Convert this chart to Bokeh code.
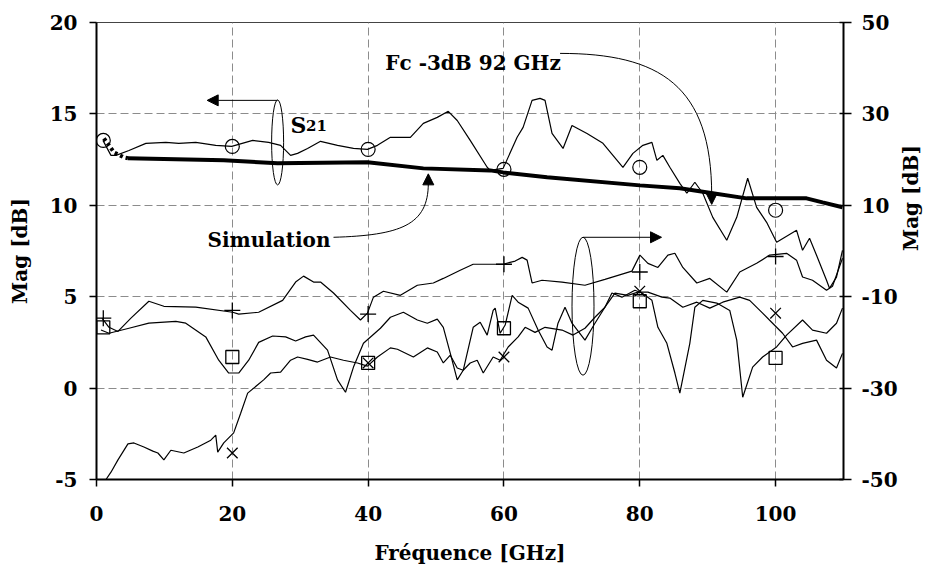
import math
from bokeh.plotting import figure
from bokeh.models import Range1d, LinearAxis, FixedTicker, Label, Arrow, NormalHead, PrintfTickFormatter
from bokeh.embed import file_html
from bokeh.resources import INLINE

# ---------------- data ----------------
X_TICKS = [0, 20, 40, 60, 80, 100]
Y_TICKS = [-5, 0, 5, 10, 15, 20]
R_TICKS = [-50, -30, -10, 10, 30, 50]

# S21 measured (left axis, dB)
S21_f = [0.95, 2.13, 2.87, 4.78, 7.27, 10.21, 12.12, 14.62, 17.56, 19.91, 21.97, 23.0, 25.35, 27.11,
         28.58, 29.61, 31.08, 32.99, 35.49, 37.84, 39.9, 41.37, 43.28, 46.22, 48.13, 50.18, 51.8, 53.12,
         55.03, 57.53, 57.97, 59.88, 61.94, 62.82, 64.14, 65.32, 66.05, 67.08, 68.7, 70.02, 72.23, 74.58,
         77.52, 78.99, 80.46, 81.79, 82.52, 83.4, 84.43, 85.9, 86.93, 88.11, 89.28, 90.75, 92.81, 94.28,
         95.89, 97.21, 98.68, 100.15, 101.62, 103.09, 103.97, 105.0, 106.03, 107.5, 107.94, 108.97, 109.85]
S21_db = [13.55, 12.73, 12.73, 13.0, 13.39, 13.44, 13.39, 13.44, 13.28, 13.22, 13.44, 13.55, 13.44, 13.28,
          12.73, 12.84, 13.11, 13.5, 13.28, 13.11, 13.06, 13.28, 13.72, 13.72, 14.48, 14.81, 15.14, 14.64,
          13.55, 12.08, 11.91, 12.02, 13.72, 14.26, 15.74, 15.85, 15.74, 13.93, 13.11, 14.37, 13.93, 13.39,
          12.08, 12.84, 13.28, 13.44, 12.46, 12.73, 12.08, 11.2, 10.66, 11.26, 10.66, 9.34, 8.09, 9.34,
          11.48, 9.89, 9.07, 7.98, 8.31, 8.63, 7.54, 8.2, 7.27, 5.9, 5.46, 6.07, 7.54]

# Simulation (left axis, dB)
SIM_f = [1.1, 1.84, 2.57, 3.16, 4.04, 4.63, 18.74, 26.67, 39.9, 48.13, 57.97, 59.88, 66.35, 80.02,
         85.9, 90.75, 95.74, 100.59, 104.56, 106.91, 109.85]
SIM_db = [13.66, 13.28, 12.9, 12.79, 12.62, 12.57, 12.46, 12.3, 12.35, 12.02, 11.91, 11.8, 11.53, 11.09,
          10.93, 10.66, 10.38, 10.38, 10.38, 10.16, 9.89]

# Curve "+" (right axis, dB)
P_f = [0.81, 1.84, 3.16, 5.07, 7.71, 9.92, 14.62, 20.06, 20.94, 23.88, 27.41, 29.32, 30.49, 31.96, 32.99,
       34.9, 37.4, 38.87, 39.9, 40.78, 42.25, 44.75, 47.25, 49.6, 51.07, 53.56, 55.47, 57.53, 59.88, 61.65,
       62.68, 63.41, 64.14, 65.61, 68.55, 71.93, 74.87, 78.84, 80.02, 81.2, 82.67, 84.14, 85.17, 86.34,
       88.4, 90.31, 92.81, 94.72, 97.21, 99.12, 101.62, 103.09, 103.97, 105.44, 107.5, 108.38, 109.85]
P_r = [-14.7, -16.7, -17.6, -14.7, -11.0, -12.1, -12.3, -13.4, -13.8, -13.4, -10.8, -6.8, -5.5, -6.8, -6.8,
       -9.2, -13.0, -15.1, -13.6, -10.1, -8.8, -9.7, -7.5, -7.0, -6.0, -4.2, -2.9, -2.9, -2.9, -2.2,
       -1.4, -2.0, -7.0, -6.4, -6.8, -7.5, -6.2, -4.4, -0.9, -2.7, -3.6, -0.9, -0.5, -3.6,
       -7.0, -6.0, -9.0, -4.6, -2.7, -0.9, -0.5, -2.0, -5.7, -6.4, -8.6, -7.7, -1.6]

# Curve "square" (right axis, dB)
A_f = [0.66, 1.84, 4.78, 7.71, 11.68, 13.15, 16.09, 18.0, 19.47, 20.94, 22.41, 23.88, 25.94, 27.85, 29.32,
       30.79, 31.96, 34.02, 35.49, 36.67, 37.84, 39.31, 41.81, 43.28, 45.19, 47.25, 48.72, 50.18, 51.07,
       52.1, 53.12, 54.0, 55.47, 56.5, 57.53, 58.41, 58.71, 59.44, 60.18, 61.21, 62.09, 63.56, 65.03, 66.35,
       67.08, 67.96, 68.99, 70.02, 71.93, 73.4, 74.87, 76.34, 78.25, 79.72, 81.2, 83.26, 84.43, 86.34,
       88.4, 90.31, 92.22, 94.72, 96.18, 98.09, 99.56, 101.03, 102.5, 103.97, 106.03, 107.5, 108.97, 109.85]
A_r = [-17.3, -18.0, -16.9, -15.8, -15.4, -15.8, -18.8, -23.9, -26.7, -26.7, -23.9, -20.0, -18.6, -18.8, -19.7,
       -18.8, -18.4, -21.7, -28.2, -30.9, -25.4, -20.2, -16.9, -14.5, -13.4, -15.1, -15.8, -14.9, -16.7,
       -22.4, -28.2, -26.1, -16.7, -15.6, -18.4, -13.0, -12.5, -18.0, -16.2, -9.7, -11.2, -12.5, -17.3, -21.0,
       -21.7, -15.8, -12.3, -15.8, -19.5, -15.8, -12.3, -9.2, -9.7, -9.0, -9.0, -10.1, -10.3, -12.3,
       -11.2, -12.5, -11.2, -10.1, -10.8, -13.6, -15.8, -18.0, -21.0, -20.2, -19.5, -23.9, -25.6, -22.4]

# Curve "x" (right axis, dB)
C_f = [1.4, 2.13, 3.16, 4.63, 5.51, 6.98, 8.3, 9.04, 9.92, 10.95, 12.86, 14.92, 16.83, 17.56, 17.85, 18.74,
       20.2, 21.23, 22.26, 24.61, 25.64, 27.11, 28.58, 29.61, 31.08, 32.55, 34.46, 36.37, 38.43, 39.9,
       41.37, 43.28, 44.31, 46.66, 48.72, 50.18, 51.07, 52.1, 53.12, 54.0, 55.03, 56.06, 56.95, 58.41,
       59.44, 60.62, 62.09, 63.12, 64.58, 66.05, 68.55, 70.17, 71.93, 73.4, 74.87, 75.9, 77.37, 79.28,
       80.31, 81.79, 82.67, 83.99, 85.17, 85.9, 87.37, 88.11, 89.28, 91.34, 93.25, 94.28, 95.16, 96.62,
       98.09, 100.15, 101.62, 103.97, 105.44, 107.5, 108.97, 109.85]
C_r = [-50.0, -48.4, -45.7, -42.2, -42.0, -42.9, -43.8, -44.2, -45.7, -43.6, -44.2, -42.9, -41.4, -40.3, -44.0,
       -42.0, -39.8, -35.5, -31.1, -28.2, -26.7, -26.5, -23.9, -23.2, -23.7, -24.3, -23.2, -23.9, -24.5,
       -25.2, -23.2, -21.2, -21.5, -23.2, -21.2, -22.1, -24.5, -22.8, -25.6, -26.1, -24.5, -23.9, -26.7,
       -23.2, -23.9, -21.0, -18.8, -16.7, -17.8, -16.7, -17.3, -18.4, -16.9, -14.5, -12.3, -9.2, -10.1,
       -8.6, -9.2, -10.8, -16.7, -20.2, -26.7, -31.1, -20.2, -12.3, -10.8, -11.4, -13.0, -19.5, -32.0,
       -25.4, -23.2, -21.0, -18.4, -15.1, -17.3, -18.0, -15.8, -12.5]

# Markers
MK_f = [1, 20, 40, 60, 80, 100]
CIRC_db = [13.55, 13.22, 13.06, 11.97, 12.08, 9.73]
PLUS_r = [-14.7, -13.0, -13.8, -2.9, -4.6, -1.2]
SQ_r = [-16.7, -23.2, -24.5, -16.9, -11.0, -23.4]
XM_f = [20, 40, 60, 80, 100]
XM_r = [-44.2, -24.5, -23.2, -8.8, -13.6]

FONT = "DejaVu Serif"

# ---------------- figure ----------------
W, H = 937, 567
p = figure(width=W, height=H, output_backend="svg", toolbar_location=None,
           x_range=Range1d(0, 110), y_range=Range1d(-5, 20),
           min_border_left=96, min_border_right=W - 844, min_border_top=22, min_border_bottom=H - 480)
p.extra_y_ranges = {"right": Range1d(-50, 50)}
p.background_fill_color = "white"
p.border_fill_color = "white"
p.outline_line_color = "#444444"
p.outline_line_width = 1

p.xaxis.ticker = FixedTicker(ticks=X_TICKS)
p.yaxis.ticker = FixedTicker(ticks=Y_TICKS)
rax = LinearAxis(y_range_name="right", ticker=FixedTicker(ticks=R_TICKS))
p.add_layout(rax, "right")

p.xaxis.axis_label = "Fréquence [GHz]"
p.yaxis.axis_label = "Mag [dB]"
rax.axis_label = "Mag [dB]"
try:
    if "axis_label_orientation" in rax.properties():
        rax.axis_label_orientation = math.pi / 2
except Exception:
    pass

for ax in (p.xaxis[0], p.yaxis[0], rax):
    ax.formatter = PrintfTickFormatter(format="%d")
    ax.axis_line_color = "black"
    ax.axis_line_width = 2
    ax.major_tick_line_color = "black"
    ax.major_tick_line_width = 1.5
    ax.minor_tick_line_color = None
    ax.major_label_text_font = FONT
    ax.major_label_text_font_style = "bold"
    ax.major_label_text_font_size = "20px"
    ax.major_label_text_color = "black"
    ax.major_tick_in = 0
    ax.major_tick_out = 7
    ax.axis_label_text_font = FONT
    ax.axis_label_text_font_style = "bold"
    ax.axis_label_text_font_size = "20px"
    ax.axis_label_text_color = "black"
p.xaxis[0].major_label_standoff = 19
p.xaxis[0].axis_label_standoff = 17
p.yaxis[0].major_label_standoff = 12
p.yaxis[0].axis_label_standoff = 15
rax.major_tick_in = 4
rax.major_tick_out = 8
rax.major_label_standoff = 10
rax.axis_label_standoff = 10

for g in (p.xgrid[0], p.ygrid[0]):
    g.grid_line_color = "#8c8c8c"
    g.grid_line_dash = "8 4"
    g.grid_line_width = 1

# ---------------- curves ----------------
p.line(SIM_f[:6], SIM_db[:6], line_color="black", line_width=4, line_dash="3 3")
p.line(SIM_f[5:], SIM_db[5:], line_color="black", line_width=4)
p.line(S21_f, S21_db, line_color="black", line_width=1.2)
p.line(P_f, P_r, y_range_name="right", line_color="black", line_width=1.2)
p.line(A_f, A_r, y_range_name="right", line_color="black", line_width=1.2)
p.line(C_f, C_r, y_range_name="right", line_color="black", line_width=1.2)

p.scatter(MK_f, CIRC_db, marker="circle", size=14, fill_color=None, line_color="black", line_width=1.2)
p.scatter(MK_f, PLUS_r, y_range_name="right", marker="cross", size=16, line_color="black", line_width=1.3)
p.scatter(MK_f, SQ_r, y_range_name="right", marker="square", size=13, fill_color=None, line_color="black", line_width=1.3)
p.scatter(XM_f, XM_r, y_range_name="right", marker="x", size=15, line_color="black", line_width=1.3)

# ---------------- annotations ----------------
p.ellipse(x=[26.67, 71.64], y=[13.44, 4.48], width=[12, 22], height=[85, 138],
          width_units="screen", height_units="screen", fill_color=None, line_color="black", line_width=1)

head = dict(size=11, fill_color="black", line_color="black")
p.add_layout(Arrow(end=NormalHead(**head), x_start=26.67, y_start=15.74, x_end=16.3, y_end=15.74,
                   line_color="black", line_width=1))
p.add_layout(Arrow(end=NormalHead(**head), x_start=71.64, y_start=8.25, x_end=83.2, y_end=8.25,
                   line_color="black", line_width=1))

p.bezier(x0=[68.26, 34.9], y0=[18.31, 8.25], x1=[90.59, 48.86], y1=[10.55, 11.2],
         cx0=[82.95, 44.75], cy0=[18.31, 8.36], cx1=[90.59, 48.86], cy1=[16.56, 8.91],
         line_color="black", line_width=1)
p.add_layout(Arrow(end=NormalHead(**head), x_start=90.59, y_start=10.7, x_end=90.59, y_end=10.05,
                   line_color="black", line_width=1))
p.add_layout(Arrow(end=NormalHead(**head), x_start=48.86, y_start=11.1, x_end=48.86, y_end=11.72,
                   line_color="black", line_width=1))

def lab(text, x, y, size="20px"):
    p.add_layout(Label(text=text, x=x, y=y, text_font=FONT, text_font_style="bold",
                       text_font_size=size, text_color="black", text_align="left",
                       text_baseline="alphabetic"))

lab("Fc -3dB 92 GHz", 42.53, 17.81)
lab("Simulation", 16.34, 8.09)
lab("S", 28.58, 14.37, size="22px")
lab("21", 30.85, 14.37, size="15px")

open("out.html", "w").write(file_html(p, INLINE))
